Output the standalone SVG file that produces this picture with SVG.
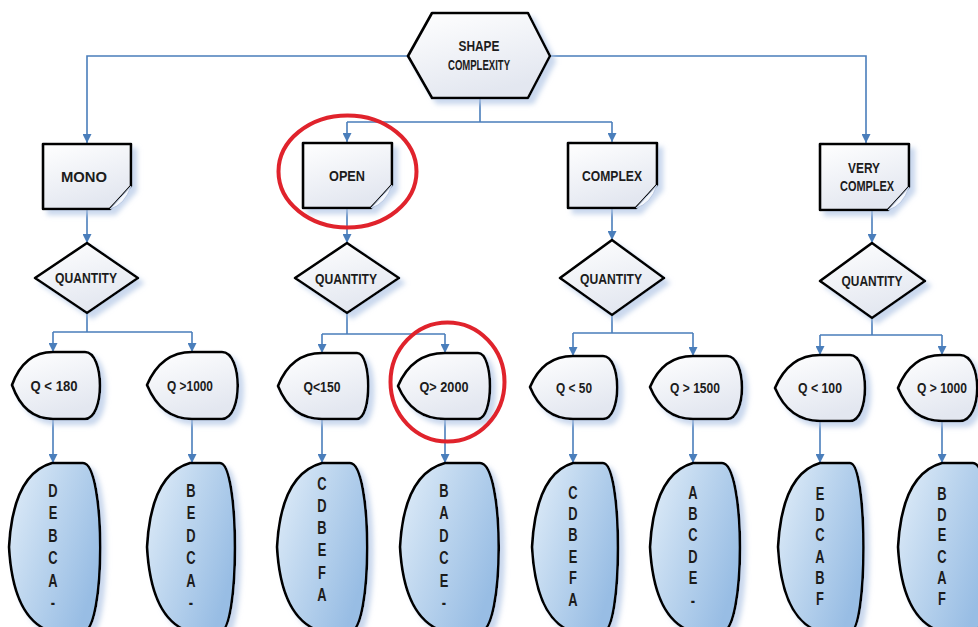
<svg xmlns="http://www.w3.org/2000/svg" width="978" height="627" viewBox="0 0 978 627">
<defs>
<style>
.shape{stroke:#000;stroke-width:2.6;stroke-linejoin:round}
.wf{fill:url(#gw)}
.bf{fill:url(#gb)}
.lbl{font-family:"Liberation Sans",Arial,sans-serif;font-weight:bold;font-size:14.5px;fill:#1c1c1c;text-anchor:middle}
.let{font-family:"Liberation Sans",Arial,sans-serif;font-weight:bold;font-size:19px;fill:#1c1c1c;text-anchor:middle}
.curl{fill:#f4f7fc;stroke:#b9c8e2;stroke-width:1}
.ring{fill:none;stroke:#e0232c;stroke-width:4}
</style>
<linearGradient id="gw" x1="0" y1="0" x2="0.4" y2="1">
<stop offset="0" stop-color="#ffffff"/><stop offset="1" stop-color="#e3e7f0"/>
</linearGradient>
<linearGradient id="gb" x1="0" y1="0" x2="1" y2="0.6">
<stop offset="0" stop-color="#e2eef9"/><stop offset="0.5" stop-color="#bcd5ee"/><stop offset="1" stop-color="#98bde4"/>
</linearGradient>
<filter id="sh" x="-20%" y="-20%" width="150%" height="150%">
<feOffset in="SourceAlpha" dx="5" dy="5" result="o"/>
<feGaussianBlur in="o" stdDeviation="2.5" result="b"/>
<feFlood flood-color="#b3c7e6" flood-opacity="0.7"/>
<feComposite in2="b" operator="in" result="s"/>
<feMerge><feMergeNode in="s"/><feMergeNode in="SourceGraphic"/></feMerge>
</filter>
<marker id="arr" viewBox="0 0 10 10" refX="10" refY="5" markerWidth="9" markerHeight="9" orient="auto" markerUnits="userSpaceOnUse">
<path d="M0,0 L10,5 L0,10 z" fill="#4a7ebb"/>
</marker>
</defs>
<rect width="978" height="627" fill="#ffffff"/>

<g id="connectors" fill="none" stroke="#4a7ebb" stroke-width="1.6">
<path d="M408,56 H87 V143" marker-end="url(#arr)"/>
<path d="M550,56 H866 V143" marker-end="url(#arr)"/>
<path d="M480,98 V122 M347,122 H612"/>
<path d="M347,122 V142" marker-end="url(#arr)"/>
<path d="M612,122 V142" marker-end="url(#arr)"/>
<path d="M87,209 V243" marker-end="url(#arr)"/>
<path d="M347,208 V243" marker-end="url(#arr)"/>
<path d="M612,208 V240" marker-end="url(#arr)"/>
<path d="M872,210 V243" marker-end="url(#arr)"/>
<path d="M87,313 V332 M53,332 H192"/>
<path d="M53,332 V352" marker-end="url(#arr)"/>
<path d="M192,332 V352" marker-end="url(#arr)"/>
<path d="M347,313 V334 M322,334 H445"/>
<path d="M322,334 V353" marker-end="url(#arr)"/>
<path d="M445,334 V353" marker-end="url(#arr)"/>
<path d="M612,315 V333 M573,333 H693"/>
<path d="M573,333 V356" marker-end="url(#arr)"/>
<path d="M693,333 V356" marker-end="url(#arr)"/>
<path d="M872,318 V335 M820,335 H942"/>
<path d="M820,335 V355" marker-end="url(#arr)"/>
<path d="M942,335 V355" marker-end="url(#arr)"/>
<path d="M53,419 V463" marker-end="url(#arr)"/>
<path d="M192,419 V463" marker-end="url(#arr)"/>
<path d="M322,419 V463" marker-end="url(#arr)"/>
<path d="M445,419 V463" marker-end="url(#arr)"/>
<path d="M573,419 V463" marker-end="url(#arr)"/>
<path d="M693,419 V463" marker-end="url(#arr)"/>
<path d="M820,421 V463" marker-end="url(#arr)"/>
<path d="M942,421 V463" marker-end="url(#arr)"/>
</g>

<g id="root">
<path class="shape wf" filter="url(#sh)" d="M432,13 H528 L550,56 L528,98 H432 L408,56 Z"/>
<text class="lbl" x="479" y="51" textLength="41" lengthAdjust="spacingAndGlyphs">SHAPE</text>
<text class="lbl" x="479" y="70" textLength="62" lengthAdjust="spacingAndGlyphs">COMPLEXITY</text>
</g>

<g id="box-mono">
<path class="shape wf" filter="url(#sh)" d="M43,144 H131 V186 Q122,196 110,209 H43 Z"/>
<path class="curl" d="M131,186 Q122,196 110,209 Q125,205 131,186 Z"/>
<text class="lbl" x="84" y="182" textLength="46" lengthAdjust="spacingAndGlyphs">MONO</text>
</g>
<g id="box-open">
<path class="shape wf" filter="url(#sh)" d="M303,143 H392 V185 Q383,195 371,208 H303 Z"/>
<path class="curl" d="M392,185 Q383,195 371,208 Q386,204 392,185 Z"/>
<text class="lbl" x="347" y="181" textLength="36" lengthAdjust="spacingAndGlyphs">OPEN</text>
</g>
<g id="box-complex">
<path class="shape wf" filter="url(#sh)" d="M568,143 H657 V185 Q648,195 636,208 H568 Z"/>
<path class="curl" d="M657,185 Q648,195 636,208 Q651,204 657,185 Z"/>
<text class="lbl" x="612" y="181" textLength="60" lengthAdjust="spacingAndGlyphs">COMPLEX</text>
</g>
<g id="box-verycomplex">
<path class="shape wf" filter="url(#sh)" d="M820,144 H909 V187 Q900,197 888,210 H820 Z"/>
<path class="curl" d="M909,187 Q900,197 888,210 Q903,206 909,187 Z"/>
<text class="lbl" x="864" y="173" textLength="32" lengthAdjust="spacingAndGlyphs">VERY</text>
<text class="lbl" x="867" y="191" textLength="54" lengthAdjust="spacingAndGlyphs">COMPLEX</text>
</g>

<g id="qty-mono">
<path class="shape wf" filter="url(#sh)" d="M87,243 L138,278 L87,313 L35,278 Z"/>
<text class="lbl" x="86" y="283" textLength="62" lengthAdjust="spacingAndGlyphs">QUANTITY</text>
</g>
<g id="qty-open">
<path class="shape wf" filter="url(#sh)" d="M347,243 L399,278 L347,313 L295,278 Z"/>
<text class="lbl" x="346" y="284" textLength="62" lengthAdjust="spacingAndGlyphs">QUANTITY</text>
</g>
<g id="qty-complex">
<path class="shape wf" filter="url(#sh)" d="M612,240 L664,278 L612,315 L560,278 Z"/>
<text class="lbl" x="611" y="284" textLength="62" lengthAdjust="spacingAndGlyphs">QUANTITY</text>
</g>
<g id="qty-verycomplex">
<path class="shape wf" filter="url(#sh)" d="M872,243 L925,281 L872,318 L820,281 Z"/>
<text class="lbl" x="872" y="286" textLength="61" lengthAdjust="spacingAndGlyphs">QUANTITY</text>
</g>

<g id="q-mono-low">
<path class="shape wf" filter="url(#sh)" d="M53,352 H85 C105,352 105,419 85,419 H53 Q24,419 12,385 Q24,352 53,352 Z"/>
<text class="lbl" x="54" y="391" textLength="47" lengthAdjust="spacingAndGlyphs">Q &lt; 180</text>
</g>
<g id="q-mono-high">
<path class="shape wf" filter="url(#sh)" d="M192,352 H222 C243,352 243,419 222,419 H192 Q161,419 147,385 Q161,352 192,352 Z"/>
<text class="lbl" x="190" y="391" textLength="46" lengthAdjust="spacingAndGlyphs">Q &gt;1000</text>
</g>
<g id="q-open-low">
<path class="shape wf" filter="url(#sh)" d="M322,353 H357 C372,353 372,419 357,419 H322 Q291,419 278,386 Q291,353 322,353 Z"/>
<text class="lbl" x="322" y="392" textLength="37" lengthAdjust="spacingAndGlyphs">Q&lt;150</text>
</g>
<g id="q-open-high">
<path class="shape wf" filter="url(#sh)" d="M445,353 H478 C494,353 494,419 478,419 H445 Q412,419 398,386 Q412,353 445,353 Z"/>
<text class="lbl" x="444" y="392" textLength="49" lengthAdjust="spacingAndGlyphs">Q&gt; 2000</text>
</g>
<g id="q-complex-low">
<path class="shape wf" filter="url(#sh)" d="M573,356 H603 C622,356 622,419 603,419 H573 Q543,419 530,387 Q543,356 573,356 Z"/>
<text class="lbl" x="574" y="393" textLength="36" lengthAdjust="spacingAndGlyphs">Q &lt; 50</text>
</g>
<g id="q-complex-high">
<path class="shape wf" filter="url(#sh)" d="M693,356 H727 C747,356 747,419 727,419 H693 Q663,419 650,387 Q663,356 693,356 Z"/>
<text class="lbl" x="695" y="393" textLength="50" lengthAdjust="spacingAndGlyphs">Q &gt; 1500</text>
</g>
<g id="q-vc-low">
<path class="shape wf" filter="url(#sh)" d="M820,355 H850 C870,355 870,421 850,421 H820 Q789,421 775,388 Q789,355 820,355 Z"/>
<text class="lbl" x="820" y="393" textLength="44" lengthAdjust="spacingAndGlyphs">Q &lt; 100</text>
</g>
<g id="q-vc-high">
<path class="shape wf" filter="url(#sh)" d="M942,355 H960 C983,355 983,421 960,421 H942 Q911,421 898,388 Q911,355 942,355 Z"/>
<text class="lbl" x="942" y="393" textLength="50" lengthAdjust="spacingAndGlyphs">Q &gt; 1000</text>
</g>

<g id="seq-mono-low">
<path class="shape bf" filter="url(#sh)" d="M52,463 H83 C106,463 106,632 83,632 H52 Q13,620 9,547 Q13,474 52,463 Z"/>
<g class="let" transform="translate(53 0) scale(0.68 1)"><text x="0" y="497">D</text><text x="0" y="519">E</text><text x="0" y="542">B</text><text x="0" y="564">C</text><text x="0" y="587">A</text><text x="0" y="609">-</text></g>
</g>
<g id="seq-mono-high">
<path class="shape bf" filter="url(#sh)" d="M190,463 H220 C240,463 240,632 220,632 H190 Q151,620 147,547 Q151,474 190,463 Z"/>
<g class="let" transform="translate(191 0) scale(0.68 1)"><text x="0" y="497">B</text><text x="0" y="519">E</text><text x="0" y="542">D</text><text x="0" y="564">C</text><text x="0" y="587">A</text><text x="0" y="609">-</text></g>
</g>
<g id="seq-open-low">
<path class="shape bf" filter="url(#sh)" d="M322,463 H350 C373,463 373,632 350,632 H322 Q281,620 277,547 Q281,474 322,463 Z"/>
<g class="let" transform="translate(322 0) scale(0.68 1)"><text x="0" y="490">C</text><text x="0" y="512">D</text><text x="0" y="534">B</text><text x="0" y="556">E</text><text x="0" y="579">F</text><text x="0" y="601">A</text></g>
</g>
<g id="seq-open-high">
<path class="shape bf" filter="url(#sh)" d="M445,463 H480 C505,463 505,632 480,632 H445 Q404,620 400,547 Q404,474 445,463 Z"/>
<g class="let" transform="translate(444 0) scale(0.68 1)"><text x="0" y="497">B</text><text x="0" y="519">A</text><text x="0" y="542">D</text><text x="0" y="564">C</text><text x="0" y="587">E</text><text x="0" y="609">-</text></g>
</g>
<g id="seq-complex-low">
<path class="shape bf" filter="url(#sh)" d="M573,463 H603 C623,463 623,632 603,632 H573 Q536,620 532,547 Q536,474 573,463 Z"/>
<g class="let" transform="translate(573 0) scale(0.68 1)"><text x="0" y="499">C</text><text x="0" y="520">D</text><text x="0" y="541">B</text><text x="0" y="563">E</text><text x="0" y="584">F</text><text x="0" y="606">A</text></g>
</g>
<g id="seq-complex-high">
<path class="shape bf" filter="url(#sh)" d="M693,463 H722 C746,463 746,632 722,632 H693 Q654,620 650,547 Q654,474 693,463 Z"/>
<g class="let" transform="translate(693 0) scale(0.68 1)"><text x="0" y="499">A</text><text x="0" y="520">B</text><text x="0" y="541">C</text><text x="0" y="563">D</text><text x="0" y="584">E</text><text x="0" y="607">-</text></g>
</g>
<g id="seq-vc-low">
<path class="shape bf" filter="url(#sh)" d="M820,463 H850 C868,463 868,632 850,632 H820 Q782,620 778,547 Q782,474 820,463 Z"/>
<g class="let" transform="translate(820 0) scale(0.68 1)"><text x="0" y="500">E</text><text x="0" y="521">D</text><text x="0" y="541">C</text><text x="0" y="563">A</text><text x="0" y="584">B</text><text x="0" y="605">F</text></g>
</g>
<g id="seq-vc-high">
<path class="shape bf" filter="url(#sh)" d="M942,463 H973 C995,463 995,632 973,632 H942 Q902,620 898,547 Q902,474 942,463 Z"/>
<g class="let" transform="translate(942 0) scale(0.68 1)"><text x="0" y="500">B</text><text x="0" y="521">D</text><text x="0" y="541">E</text><text x="0" y="563">C</text><text x="0" y="584">A</text><text x="0" y="605">F</text></g>
</g>

<g id="highlights">
<ellipse class="ring" cx="347.5" cy="171.5" rx="69" ry="56"/>
<ellipse class="ring" cx="447.5" cy="382" rx="57" ry="59.5"/>
</g>
</svg>
